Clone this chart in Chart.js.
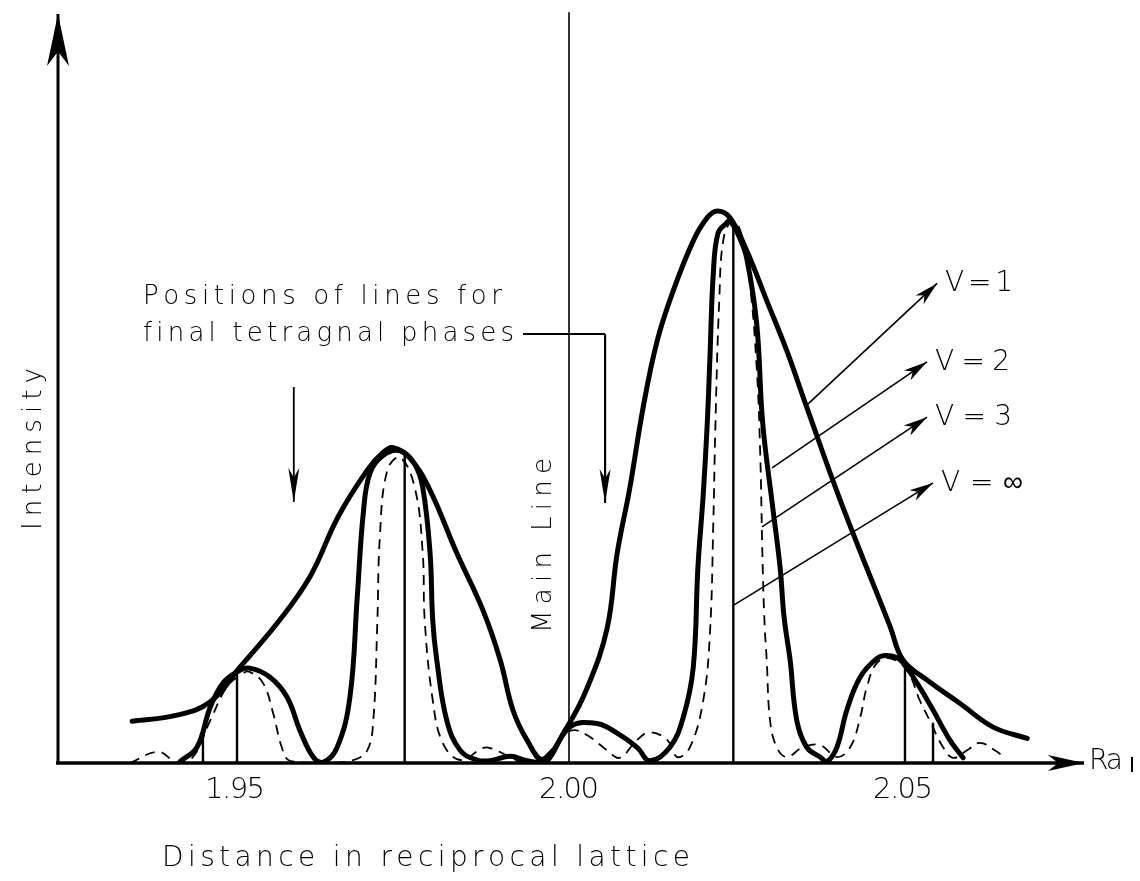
<!DOCTYPE html>
<html>
<head>
<meta charset="utf-8">
<script src="https://cdn.jsdelivr.net/npm/chart.js@4.4.1/dist/chart.umd.min.js"></script>
<style>
  html, body { margin: 0; padding: 0; background: #fff; }
  canvas { display: block; }
</style>
</head>
<body>
<canvas id="chart" width="1140" height="881"></canvas>
<script>
// distance in reciprocal lattice (x) against intensity (y) for each V
const v1Dist = [1.9346, 1.9413, 1.9463, 1.9507, 1.9563, 1.9612, 1.9654, 1.9698, 1.9722, 1.9737,
  1.9762, 1.9792, 1.9832, 1.9871, 1.9897, 1.9916, 1.9937, 1.9961, 1.9997, 2.0027, 2.0057, 2.0072,
  2.0091, 2.0111, 2.0132, 2.0156, 2.0186, 2.0207, 2.0222, 2.0241, 2.0266, 2.0296, 2.0326, 2.0356,
  2.0406, 2.0481, 2.0500, 2.0536, 2.0585, 2.0635, 2.0686];
const v1Int = [5.6, 6.4, 8.2, 12.8, 18.7, 24.9, 32.9, 39.2, 41.6, 42.2,
  40.8, 36.5, 28.1, 20.5, 13.8, 7.1, 3.1, 0.5, 4.8, 10.0, 18.0, 28.0,
  36.8, 47.6, 56.5, 63.2, 69.9, 73.0, 73.9, 73.0, 68.6, 61.9, 55.2, 47.6,
  35.2, 18.2, 13.8, 11.1, 8.0, 4.8, 3.3];

const v2Dist = [1.9418, 1.9443, 1.9463, 1.9482, 1.9503, 1.9522, 1.9552, 1.9578, 1.9597, 1.9617,
  1.9632, 1.9653, 1.9672, 1.9683, 1.9692, 1.9702, 1.9722, 1.9747, 1.9769, 1.9781, 1.9792, 1.9796,
  1.9802, 1.9817, 1.9837, 1.9862, 1.9882, 1.9912, 1.9937, 1.9964, 2.0001, 2.0042, 2.0072, 2.0102,
  2.0121, 2.0151, 2.0171, 2.0186, 2.0193, 2.0201, 2.0207, 2.0211, 2.0216, 2.0223, 2.0236, 2.0241,
  2.0256, 2.0266, 2.0281, 2.0290, 2.0305, 2.0316, 2.0322, 2.0331, 2.0341, 2.0356, 2.0376, 2.0386,
  2.0401, 2.0416, 2.0436, 2.0461, 2.0476, 2.0496, 2.0521, 2.0545, 2.0570, 2.0590];
const v2Int = [0.2, 2.1, 7.5, 10.7, 12.2, 12.7, 11.5, 8.8, 4.4, 0.8,
  0.1, 2.1, 8.8, 22.2, 33.4, 38.8, 41.2, 41.8, 40.0, 36.9, 28.1, 19.1,
  13.8, 5.7, 1.7, 0.4, 0.3, 0.9, 0.3, 0.0, 4.8, 5.3, 4.0, 2.1,
  0.3, 2.1, 6.1, 12.8, 26.2, 36.0, 45.5, 54.3, 65.5, 70.9, 72.3, 72.6,
  70.2, 67.6, 58.8, 45.5, 34.2, 26.2, 19.5, 13.8, 5.7, 2.1, 0.8, 0.2,
  2.1, 7.1, 11.5, 14.0, 14.4, 13.8, 10.7, 7.1, 3.1, 0.7];

const v3Dist = [1.9343, 1.9385, 1.9413, 1.9437, 1.9463, 1.9488, 1.9512, 1.9522, 1.9542, 1.9557,
  1.9570, 1.9582, 1.9632, 1.9677, 1.9698, 1.9707, 1.9713, 1.9717, 1.9728, 1.9747, 1.9769, 1.9781,
  1.9784, 1.9796, 1.9811, 1.9837, 1.9871, 1.9882, 1.9912, 1.9927, 1.9952, 1.9997, 2.0009, 2.0031,
  2.0057, 2.0076, 2.0102, 2.0121, 2.0147, 2.0162, 2.0181, 2.0201, 2.0211, 2.0216, 2.0219, 2.0225,
  2.0232, 2.0246, 2.0259, 2.0271, 2.0281, 2.0286, 2.0290, 2.0293, 2.0296, 2.0301, 2.0311, 2.0326,
  2.0350, 2.0376, 2.0401, 2.0421, 2.0436, 2.0446, 2.0461, 2.0481, 2.0506, 2.0525, 2.0540, 2.0560,
  2.0575, 2.0596, 2.0615, 2.0641, 2.0650];
const v3Int = [0.0, 1.5, 0.1, 0.8, 5.7, 10.2, 12.0, 12.2, 10.7, 6.7,
  2.1, 0.3, 0.0, 0.4, 1.7, 5.7, 18.7, 30.5, 39.2, 40.9, 36.9, 28.1,
  19.1, 8.4, 2.7, 0.4, 2.0, 2.0, 0.8, 0.2, 0.1, 4.0, 4.4, 3.5,
  1.7, 0.7, 3.1, 4.1, 3.1, 0.8, 2.1, 8.4, 17.4, 32.0, 44.5, 62.0,
  70.5, 72.6, 70.5, 64.0, 52.9, 42.2, 26.2, 18.2, 13.8, 5.7, 2.1, 0.8,
  2.1, 2.4, 0.8, 2.1, 6.1, 10.2, 13.4, 14.0, 12.4, 8.4, 5.7, 2.1,
  0.7, 1.7, 2.7, 1.5, 0.8];

// V = infinity: sharp lines
const vInfDist = [1.9452, 1.9503, 1.9754, 2.0246, 2.0503, 2.0545];
const vInfInt = [3.7, 12.4, 41.4, 72.3, 13.8, 5.4];

const mainLineDist = 2.00;
const mainLineTop = 100.5;

const tickValues = [1.95, 2.00, 2.05];
const tickLabels = ['1.95', '2.00', '2.05'];

// arrows to the tetragonal line positions
const phaseArrowDist = [1.9588, 2.0054];

// labels for each curve, with arrows from the curve out to the label
const vLabels = ['V = 1', 'V = 2', 'V = 3', 'V = \u221E'];
const vArrowFrom = [[2.0356, 47.9], [2.0304, 39.5], [2.0289, 31.6], [2.0246, 21.1]];
const vArrowTo = [[2.0551, 64.2], [2.0536, 53.7], [2.0536, 46.3], [2.0545, 37.5]];

const FONT = '200 {size}px "DejaVu Sans", "Liberation Sans", sans-serif';
const font = size => FONT.replace('{size}', size);

function pairs(xs, ys) {
  return xs.map((x, i) => ({x, y: ys[i]}));
}

function sticks(xs, ys) {
  const out = [];
  xs.forEach((x, i) => {
    out.push({x, y: 0}, {x, y: ys[i]}, {x: null, y: null});
  });
  return out;
}

// text spread out so that it covers a given width
function spreadText(ctx, text, x, y, width) {
  const chars = [...text];
  const widths = chars.map(c => ctx.measureText(c).width);
  const total = widths.reduce((a, b) => a + b, 0);
  const gap = chars.length > 1 ? (width - total) / (chars.length - 1) : 0;
  let cx = x;
  chars.forEach((c, i) => {
    ctx.fillText(c, cx, y);
    cx += widths[i] + gap;
  });
}

function arrowHead(ctx, x, y, angle, len, half) {
  ctx.save();
  ctx.translate(x, y);
  ctx.rotate(angle);
  ctx.beginPath();
  ctx.moveTo(0, 0);
  ctx.lineTo(-len, -half);
  ctx.lineTo(-len * 0.72, 0);
  ctx.lineTo(-len, half);
  ctx.closePath();
  ctx.fill();
  ctx.restore();
}

function arrow(ctx, x0, y0, x1, y1, len, half, width) {
  ctx.lineWidth = width;
  ctx.beginPath();
  ctx.moveTo(x0, y0);
  ctx.lineTo(x1, y1);
  ctx.stroke();
  arrowHead(ctx, x1, y1, Math.atan2(y1 - y0, x1 - x0), len, half);
}

const figureDecor = {
  id: 'figureDecor',
  afterDraw(chart) {
    const {ctx, chartArea, scales: {x, y}} = chart;
    const px = v => x.getPixelForValue(v);
    const py = v => y.getPixelForValue(v);
    const base = py(0);

    ctx.save();
    ctx.fillStyle = '#000';
    ctx.strokeStyle = '#000';
    ctx.lineCap = 'butt';

    // axes with arrowheads
    arrow(ctx, chartArea.left, base + 1, chartArea.left, chartArea.top - 2, 52, 11, 3);
    arrow(ctx, chartArea.left - 2, base, chartArea.right + 4, base, 36, 8, 3.5);

    // tick labels
    ctx.font = font(29);
    ctx.textBaseline = 'alphabetic';
    tickValues.forEach((v, i) => {
      const w = 60;
      spreadText(ctx, tickLabels[i], px(v) - w / 2, base + 35, w);
    });

    // axis names
    ctx.font = font(28);
    spreadText(ctx, 'Distance in reciprocal lattice', 162, 866, 528);
    spreadText(ctx, 'Ra', chartArea.right + 9, base + 6, 34);
    ctx.fillRect(chartArea.right + 51, base - 6, 2, 15);

    ctx.save();
    ctx.translate(41, 530);
    ctx.rotate(-Math.PI / 2);
    ctx.font = font(26);
    spreadText(ctx, 'Intensity', 0, 0, 162);
    ctx.restore();

    ctx.save();
    ctx.translate(551, 633);
    ctx.rotate(-Math.PI / 2);
    ctx.font = font(26);
    spreadText(ctx, 'Main Line', 0, 0, 175);
    ctx.restore();

    // note on the tetragonal phases
    ctx.font = font(26);
    spreadText(ctx, 'Positions of lines for', 143, 304, 359);
    spreadText(ctx, 'final tetragnal phases', 143, 341, 371);

    const leftX = px(phaseArrowDist[0]);
    const rightX = px(phaseArrowDist[1]);
    arrow(ctx, leftX, 387, leftX, 502, 34, 5.5, 1.8);
    ctx.lineWidth = 1.8;
    ctx.beginPath();
    ctx.moveTo(523, 334);
    ctx.lineTo(rightX, 334);
    ctx.stroke();
    arrow(ctx, rightX, 334, rightX, 503, 34, 5.5, 2.2);

    // V labels with their pointers
    ctx.font = font(28);
    const labelWidths = [68, 75, 77, 82];
    vLabels.forEach((label, i) => {
      const [fx, fy] = vArrowFrom[i];
      const [tx, ty] = vArrowTo[i];
      const x0 = px(fx), y0 = py(fy), x1 = px(tx), y1 = py(ty);
      arrow(ctx, x0, y0, x1, y1, 24, 6, 1.6);
      spreadText(ctx, label, x1 + 8, y1 + 8, labelWidths[i]);
    });

    ctx.restore();
  }
};

const thick = {
  showLine: true,
  pointRadius: 0,
  borderColor: '#000',
  borderWidth: 5,
  borderCapStyle: 'round',
  borderJoinStyle: 'round',
  tension: 0.4,
  fill: false
};

new Chart(document.getElementById('chart'), {
  type: 'scatter',
  data: {
    datasets: [
      Object.assign({}, thick, {label: 'V = 1', data: pairs(v1Dist, v1Int)}),
      Object.assign({}, thick, {label: 'V = 2', data: pairs(v2Dist, v2Int)}),
      Object.assign({}, thick, {
        label: 'V = 3',
        data: pairs(v3Dist, v3Int),
        borderWidth: 1.8,
        borderDash: [10, 7],
        borderCapStyle: 'butt'
      }),
      {
        label: 'V = \u221E',
        data: sticks(vInfDist, vInfInt),
        showLine: true,
        spanGaps: false,
        pointRadius: 0,
        borderColor: '#000',
        borderWidth: 2.4,
        tension: 0
      },
      {
        label: 'Main Line',
        data: [{x: mainLineDist, y: 0}, {x: mainLineDist, y: mainLineTop}],
        showLine: true,
        pointRadius: 0,
        borderColor: '#000',
        borderWidth: 1.6,
        tension: 0,
        clip: false
      }
    ]
  },
  options: {
    responsive: false,
    animation: false,
    devicePixelRatio: 1,
    layout: {padding: {left: 58, right: 60, top: 16, bottom: 118}},
    plugins: {legend: {display: false}, tooltip: {enabled: false}},
    scales: {
      x: {type: 'linear', min: 1.9235, max: 2.0765, display: false},
      y: {type: 'linear', min: 0, max: 100, display: false}
    }
  },
  plugins: [figureDecor]
});
</script>
</body>
</html>
